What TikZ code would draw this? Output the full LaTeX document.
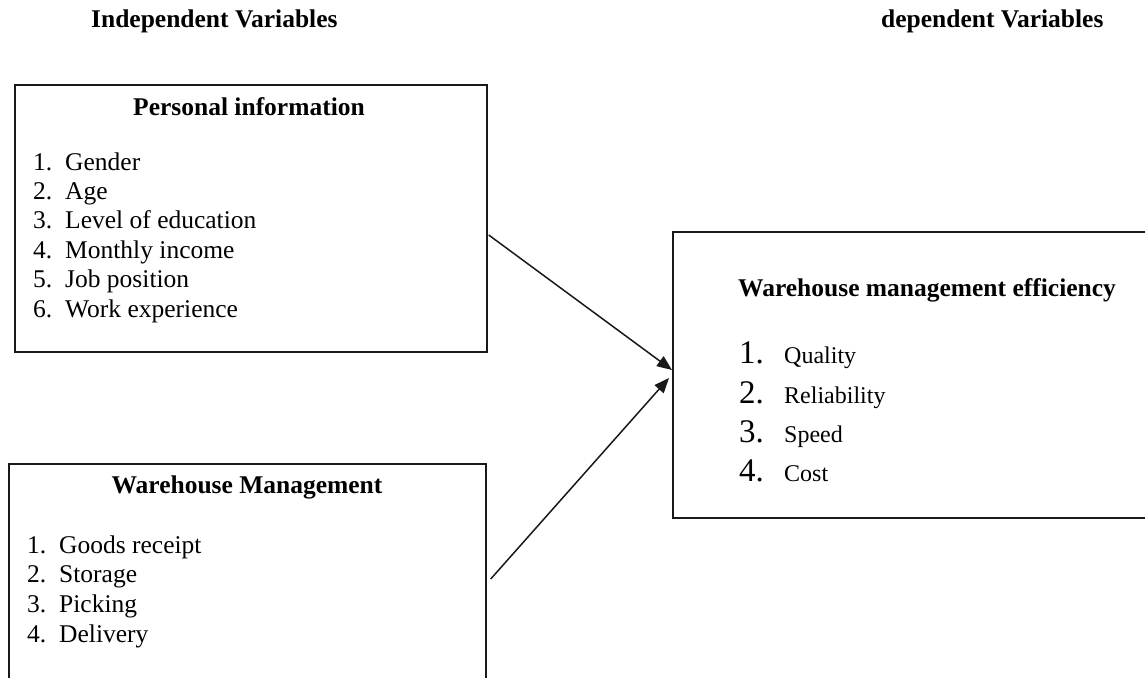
\documentclass[tikz,border=0pt]{standalone}
\usepackage{fontspec}
\setmainfont{Liberation Serif}
\usetikzlibrary{arrows.meta,calc}
\tikzset{
  frame/.style={draw=black!90, line width=1.7pt, inner sep=0pt, anchor=north west},
  head/.style={font=\fontsize{25.5}{30}\selectfont\bfseries, inner sep=0pt, anchor=base},
  topic/.style={font=\fontsize{25.5}{30}\selectfont\bfseries, inner sep=0pt, anchor=base west},
  item/.style={font=\fontsize{25.5}{30}\selectfont, inner sep=0pt, anchor=base west},
  bignum/.style={font=\fontsize{33}{38}\selectfont, inner sep=0pt, anchor=base west},
  smitem/.style={font=\fontsize{24}{28}\selectfont, inner sep=0pt, anchor=base west},
  link/.style={draw=black!90, line width=1.5pt, -{Triangle[length=15pt,width=12pt]}}
}
\begin{document}
\begin{tikzpicture}[x=1pt,y=-1pt]
\useasboundingbox[fill=white] (0,0) rectangle (1145,677);
% titles
\node[topic] (tind) at (91,28) {Independent Variables};
\node[topic] (tdep) at (881,28) {dependent Variables};
% boxes
\node[frame, minimum width=472pt, minimum height=267pt] (b1) at (14,84) {};
\node[frame, minimum width=477pt, minimum height=240pt] (b2) at (8,463) {};
\node[frame, minimum width=490pt, minimum height=286pt] (b3) at (672,231) {};
% box 1 content
\node[head] (h1) at (249,115) {Personal information};
\foreach \n/\t/\y in {1/Gender/170, 2/Age/199, 3/Level of education/228, 4/Monthly income/258, 5/Job position/287, 6/Work experience/317}{
  \node[item] (n1-\n) at (33,\y) {\n.};
  \node[item] (i1-\n) at (65,\y) {\t};
}
% box 2 content
\node[head] (h2) at (247,493) {Warehouse Management};
\foreach \n/\t/\y in {1/Goods receipt/553, 2/Storage/582, 3/Picking/612, 4/Delivery/642}{
  \node[item] (n2-\n) at (27,\y) {\n.};
  \node[item] (i2-\n) at (59,\y) {\t};
}
% box 3 content
\node[topic] (h3) at (738,296) {Warehouse management efficiency};
\foreach \n/\t/\y in {1/Quality/363, 2/Reliability/403, 3/Speed/442, 4/Cost/481}{
  \node[bignum] (n3-\n) at (739,\y) {\n.};
  \node[smitem] (i3-\n) at (784,\y) {\t};
}
% connectors
\coordinate (s1) at ($(b1.north east)+(1,151)$);
\coordinate (s2) at ($(b2.north east)+(4,116)$);
\coordinate (e1) at ($(b3.north west)+(0,139)$);
\coordinate (e2) at ($(b3.north west)+(-3,147)$);
\draw[link] (s1) -- (e1);
\draw[link] (s2) -- (e2);
\end{tikzpicture}
\end{document}
